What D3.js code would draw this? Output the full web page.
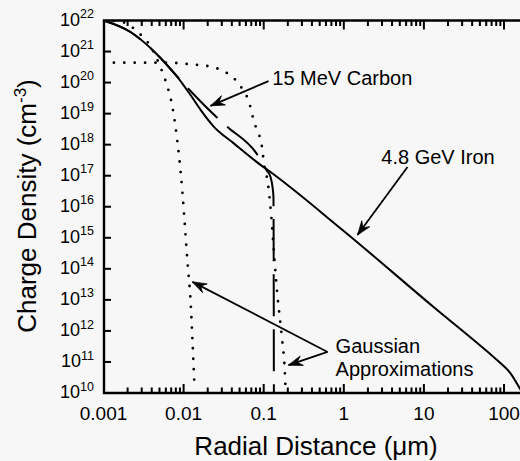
<!DOCTYPE html>
<html><head><meta charset="utf-8">
<script src="https://cdn.jsdelivr.net/npm/d3@7"></script>
<style>
html,body{margin:0;padding:0;background:#f7f7f7;}
svg{display:block;font-family:"Liberation Sans",Arial,Helvetica,sans-serif;}
</style>
</head><body>
<svg id="chart" width="520" height="461"></svg>
<script>
// ---------- data ----------
const xTickValues = [0.001, 0.01, 0.1, 1, 10, 100];
const xTickLabels = ["0.001", "0.01", "0.1", "1", "10", "100"];
const yTickValues = [1e10,1e11,1e12,1e13,1e14,1e15,1e16,1e17,1e18,1e19,1e20,1e21,1e22];
const yTickExponents = ["10","11","12","13","14","15","16","17","18","19","20","21","22"];

// 4.8 GeV Iron (solid)
const ironR = [0.001, 0.00217, 0.00387, 0.00515, 0.0084, 0.0122, 0.0163, 0.0236, 0.042, 0.0912, 0.1114, 0.964, 13.2, 74, 90, 120, 161];
const ironN = [1e22, 4.27e21, 1.29e21, 6.17e20, 1.51e20, 3.98e19, 1.32e19, 3.9e18, 1.12e18, 2.24e17, 1.55e17, 1.78e15, 5.89e12, 1.45e11, 9.3e10, 4.4e10, 1.26e10];

// 15 MeV Carbon (long dash)
const carbonR = [0.001, 0.00217, 0.00387, 0.00515, 0.0084, 0.0112, 0.0265, 0.0353, 0.0838, 0.1084, 0.1216, 0.1288, 0.1324, 0.1335, 0.134];
const carbonN = [1e22, 4.27e21, 1.29e21, 6.17e20, 1.51e20, 6.76e19, 7.24e18, 3.72e18, 4.68e17, 1.51e17, 9.12e16, 4.37e16, 2.04e16, 1e13, 1e10];

// Gaussian approximation, narrow (dotted)
const gaussNarrowR = [0.001, 0.00188, 0.00265, 0.00354, 0.00561, 0.0063, 0.00726, 0.00793, 0.00968, 0.01057, 0.0112, 0.0122, 0.0129, 0.01367];
const gaussNarrowN = [1.05e22, 8.32e21, 4.27e21, 2.04e21, 1.74e20, 7.24e19, 1.62e19, 3.72e18, 2.75e16, 1.23e15, 1.55e14, 1e13, 5.13e11, 1.55e10];

// Gaussian approximation, wide (dotted)
const gaussWideR = [0.001, 0.00647, 0.0122, 0.023, 0.0315, 0.042, 0.0543, 0.0628, 0.0698, 0.0751, 0.0853, 0.0931, 0.0975, 0.1002, 0.1114, 0.118, 0.1216, 0.125, 0.1276, 0.1476, 0.170, 0.182, 0.187];
const gaussWideN = [4.37e20, 4.37e20, 3.89e20, 3.16e20, 2.34e20, 1.41e20, 6.17e19, 3.16e19, 1.32e19, 5.75e18, 2.51e18, 1.15e18, 5.25e17, 2.4e17, 7.08e16, 2.09e16, 9.55e15, 4.27e15, 2.04e15, 1.62e13, 5.13e11, 7.08e10, 1.58e10];

// annotations (data coordinates)
const carbonLabel = {text: "15 MeV Carbon", at: [0.128, 8.5e19], from: [0.1148, 1.12e20], to: [0.0217, 1.78e19]};
const ironLabel = {text: "4.8 GeV Iron", at: [15, 2.3e17], from: [6.24, 1.9e17], to: [1.483, 1.23e15]};
const gaussLabel = {lines: ["Gaussian", "Approximations"], at: [0.79, 1.9e11], from: [0.627, 2.1e11], to: [[0.0129, 3.8e13], [0.204, 7.9e10]]};

// ---------- layout ----------
const svg = d3.select("#chart");
const pLeft = 104, pTop = 20.5, pBottom = 393, pRight = 520;
const decade = 80.1;
const x = d3.scaleLog().domain([0.001, 1000]).range([103.5, 103.5 + 6 * decade]);
const y = d3.scaleLog().domain([1e10, 1e22]).range([pBottom, pTop]);

svg.append("rect").attr("width", 520).attr("height", 461).attr("fill", "#f7f7f7");

svg.append("defs").append("clipPath").attr("id", "plot")
  .append("rect").attr("x", pLeft).attr("y", pTop).attr("width", pRight - pLeft + 40).attr("height", pBottom - pTop);

// minor tick positions (2..9 in each decade)
const minor = [];
for (let e = -3; e <= 2; e++) for (let k = 2; k <= 9; k++) minor.push(k * Math.pow(10, e));

// ---------- curves ----------
const line = d3.line().x(p => x(p[0])).y(p => y(p[1])).curve(d3.curveMonotoneX);
const zip = (a, b) => a.map((v, i) => [v, b[i]]);
const plot = svg.append("g").attr("clip-path", "url(#plot)");

plot.append("path").datum(zip(gaussNarrowR, gaussNarrowN)).attr("d", line)
  .attr("fill", "none").attr("stroke", "#000").attr("stroke-width", 2.8)
  .attr("stroke-linecap", "round").attr("stroke-dasharray", "0,10.4");
plot.append("path").datum(zip(gaussWideR, gaussWideN)).attr("d", line)
  .attr("fill", "none").attr("stroke", "#000").attr("stroke-width", 2.8)
  .attr("stroke-linecap", "round").attr("stroke-dasharray", "0,10.4");
plot.append("path").datum(zip(carbonR, carbonN)).attr("d", line)
  .attr("fill", "none").attr("stroke", "#000").attr("stroke-width", 2)
  .attr("stroke-dasharray", "42,13");
plot.append("path").datum(zip(ironR, ironN)).attr("d", line)
  .attr("fill", "none").attr("stroke", "#000").attr("stroke-width", 2);

// ---------- axes frame ----------
svg.append("path").attr("d", `M${pRight},${pTop}H${pLeft}V${pBottom}H${pRight}`)
  .attr("fill", "none").attr("stroke", "#000").attr("stroke-width", 2.4);

// ---------- ticks as thin rects (inward) ----------
const tickG = svg.append("g").attr("fill", "#000");
const majorX = xTickValues.filter(v => x(v) > pLeft + 1 && x(v) < pRight);
const minorX = minor.filter(v => x(v) < pRight - 1);
tickG.selectAll("rect.mb").data(majorX).join("rect").attr("class", "mb")
  .attr("x", v => x(v) - 1).attr("y", pBottom - 9).attr("width", 2).attr("height", 9);
tickG.selectAll("rect.mt").data(majorX).join("rect").attr("class", "mt")
  .attr("x", v => x(v) - 1).attr("y", pTop).attr("width", 2).attr("height", 9);
tickG.selectAll("rect.nb").data(minorX).join("rect").attr("class", "nb")
  .attr("x", v => x(v) - 1).attr("y", pBottom - 5.5).attr("width", 2).attr("height", 5.5);
tickG.selectAll("rect.nt").data(minorX).join("rect").attr("class", "nt")
  .attr("x", v => x(v) - 1).attr("y", pTop).attr("width", 2).attr("height", 5.5);
tickG.selectAll("rect.y").data(yTickValues.slice(1, -1)).join("rect").attr("class", "y")
  .attr("x", pLeft).attr("y", v => y(v) - 1).attr("width", 7).attr("height", 2);

// x tick labels
svg.append("g").selectAll("text").data(xTickValues).join("text")
  .attr("x", v => x(v)).attr("y", pBottom + 14).attr("dy", "0.71em")
  .attr("text-anchor", "middle").attr("font-size", 19).attr("fill", "#000")
  .text((v, i) => xTickLabels[i]);

// y tick labels
svg.append("g").selectAll("text").data(yTickValues).join("text")
  .attr("x", pLeft - 10).attr("y", v => y(v)).attr("dy", "0.32em")
  .attr("text-anchor", "end").attr("fill", "#000")
  .each(function (v, i) {
    const t = d3.select(this);
    t.append("tspan").attr("font-size", 18).text("10");
    t.append("tspan").attr("font-size", 12.5).attr("dy", -7.5).text(yTickExponents[i]);
  });

// ---------- annotations ----------
function arrow(from, to) {
  const x0 = x(from[0]), y0 = y(from[1]), x1 = x(to[0]), y1 = y(to[1]);
  svg.append("line").attr("x1", x0).attr("y1", y0).attr("x2", x1).attr("y2", y1)
    .attr("stroke", "#000").attr("stroke-width", 1.8);
  const a = Math.atan2(y1 - y0, x1 - x0);
  const L = 14, Wd = 5, N = 9;
  const bx = x1 - L * Math.cos(a), by = y1 - L * Math.sin(a);
  const ux = -Math.sin(a), uy = Math.cos(a);
  const nx = x1 - N * Math.cos(a), ny = y1 - N * Math.sin(a);
  svg.append("path")
    .attr("d", `M${x1},${y1}L${bx + ux * Wd},${by + uy * Wd}L${nx},${ny}L${bx - ux * Wd},${by - uy * Wd}Z`)
    .attr("fill", "#000").attr("stroke", "#000").attr("stroke-width", 0.8).attr("stroke-linejoin", "miter");
}

arrow(carbonLabel.from, carbonLabel.to);
svg.append("text").attr("x", x(carbonLabel.at[0])).attr("y", y(carbonLabel.at[1]))
  .attr("font-size", 20).attr("fill", "#000").text(carbonLabel.text);

arrow(ironLabel.from, ironLabel.to);
svg.append("text").attr("x", x(ironLabel.at[0])).attr("y", y(ironLabel.at[1]))
  .attr("font-size", 20).attr("fill", "#000").attr("text-anchor", "middle").text(ironLabel.text);

gaussLabel.to.forEach(t => arrow(gaussLabel.from, t));
const gtx = svg.append("text").attr("x", x(gaussLabel.at[0])).attr("y", y(gaussLabel.at[1]))
  .attr("font-size", 20).attr("fill", "#000");
gaussLabel.lines.forEach((s, i) => gtx.append("tspan").attr("x", x(gaussLabel.at[0])).attr("dy", i === 0 ? 0 : 23).text(s));

// ---------- titles ----------
svg.append("text").attr("x", 316).attr("y", 455).attr("text-anchor", "middle")
  .attr("font-size", 26).attr("fill", "#000").text("Radial Distance (\u03bcm)");
const yt = svg.append("text").attr("transform", "translate(36,206) rotate(-90)").attr("text-anchor", "middle")
  .attr("font-size", 26).attr("fill", "#000");
yt.append("tspan").text("Charge Density (cm");
yt.append("tspan").attr("font-size", 17).attr("dy", -10).text("-3");
yt.append("tspan").attr("dy", 10).text(")");
</script>
</body></html>
